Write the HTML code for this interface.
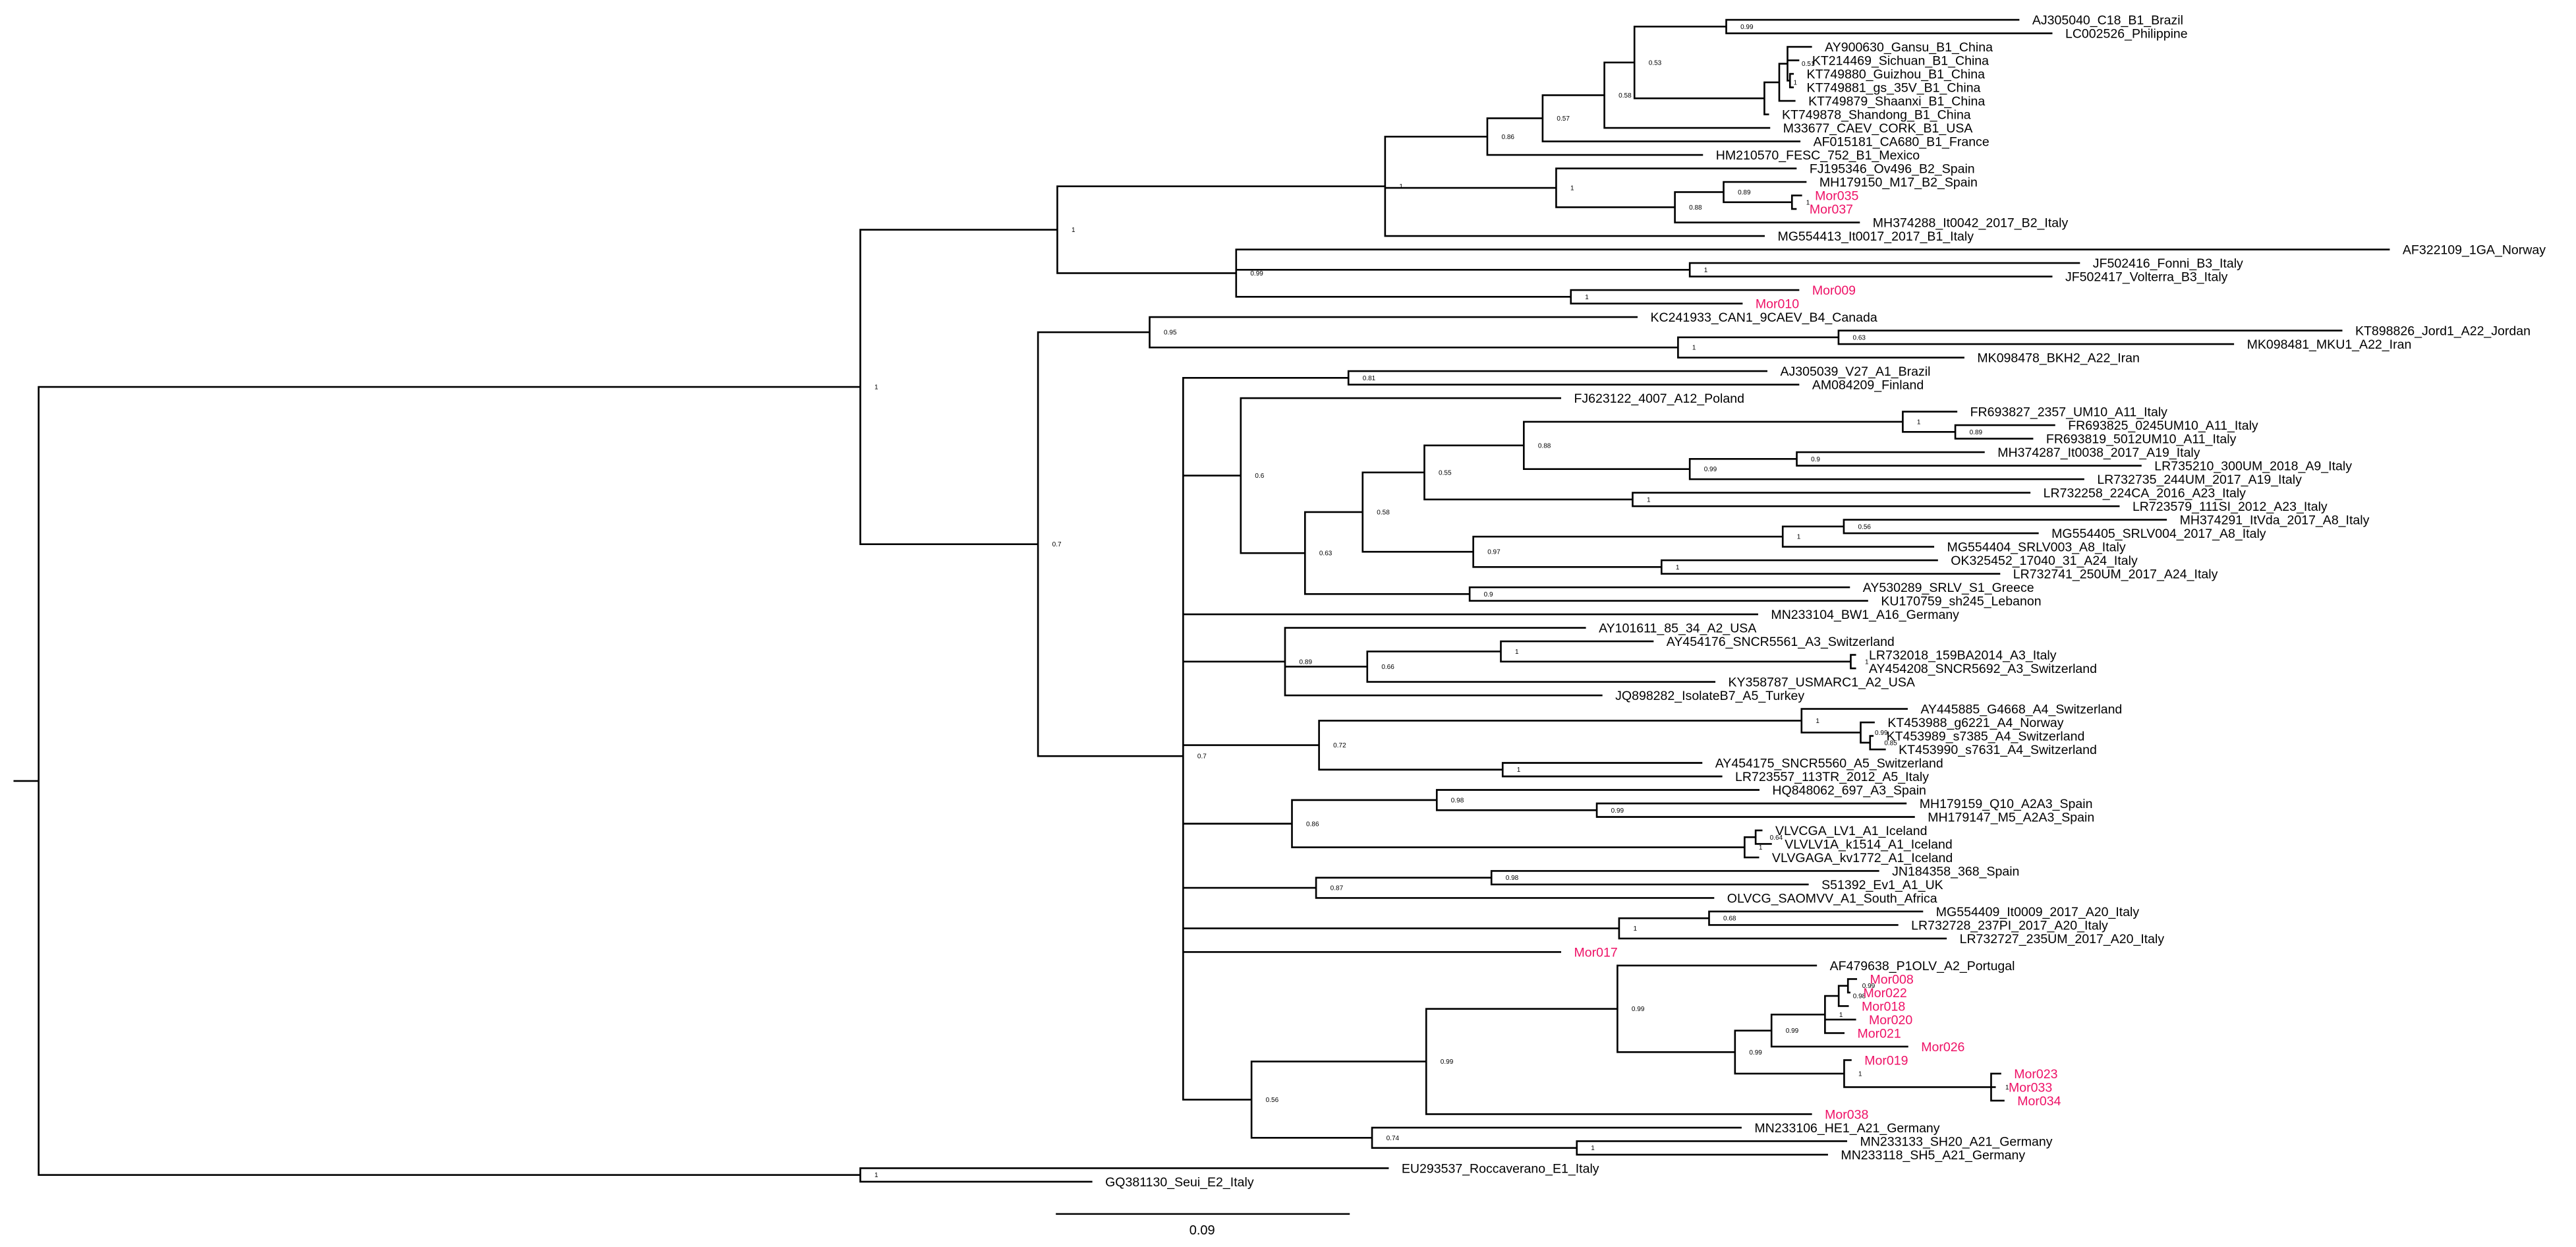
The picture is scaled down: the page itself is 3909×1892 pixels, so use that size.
<!DOCTYPE html>
<html><head><meta charset="utf-8"><style>
html,body{margin:0;padding:0;background:#fff;}
svg{display:block;}
text{font-family:"Liberation Sans",Arial,sans-serif;}
</style></head><body>
<svg id="s" xmlns="http://www.w3.org/2000/svg" width="3909" height="1892" viewBox="0 0 1560 755" preserveAspectRatio="none">
<rect width="1560" height="755" fill="#fff"/>
<g id="lines" stroke="#000" stroke-width="1.05" stroke-linecap="square" fill="none"></g>
<g id="txt"></g>
<line x1="639.4" y1="735" x2="817.4" y2="735" stroke="#000" stroke-width="1"/>
<text x="728" y="747.5" font-size="8" text-anchor="middle" fill="#000">0.09</text>
</svg>
<script>
function L(i,t,x,r){return {leaf:1,i:i,t:t,x:x,r:r};}
function N(x,s,c,yo){return {x:x,s:s,c:c,yo:yo};}
var tree=N(23.4,'',[
 N(521,'1',[
   N(640.3,'1',[
     N(838.8,'1',[
       N(900.7,'0.86',[
         N(934.2,'0.57',[
           N(971.6,'0.58',[
             N(989.8,'0.53',[
               N(1045.4,'0.99',[L(1,'AJ305040_C18_B1_Brazil',1222.4),L(2,'LC002526_Philippine',1242.4)]),
               N(1068.5,'',[
                 N(1077.5,'1',[
                   N(1082.5,'0.51',[L(3,'AY900630_Gansu_B1_China',1096.8),L(4,'KT214469_Sichuan_B1_China',1089.1),N(1084,'',[L(5,'KT749880_Guizhou_B1_China',1085.8),L(6,'KT749881_gs_35V_B1_China',1085.8)])]),
                   L(7,'KT749879_Shaanxi_B1_China',1086.8)]),
                 L(8,'KT749878_Shandong_B1_China',1070.8)])
             ]),
             L(9,'M33677_CAEV_CORK_B1_USA',1071.5)]),
           L(10,'AF015181_CA680_B1_France',1089.8)]),
         L(11,'HM210570_FESC_752_B1_Mexico',1030.8)]),
       N(942.4,'1',[L(12,'FJ195346_Ov496_B2_Spain',1087.5),
         N(1014.3,'0.88',[N(1043.8,'0.89',[L(13,'MH179150_M17_B2_Spain',1093.5),N(1085.2,'1',[L(14,'Mor035',1090.8,1),L(15,'Mor037',1087.5,1)])]),L(16,'MH374288_It0042_2017_B2_Italy',1125.8)])]),
       L(17,'MG554413_It0017_2017_B1_Italy',1068.2)]),
     N(748.6,'0.99',[L(18,'AF322109_1GA_Norway',1446.7),N(1023.3,'1',[L(19,'JF502416_Fonni_B3_Italy',1259.1),L(20,'JF502417_Volterra_B3_Italy',1242.4)]),N(951.3,'1',[L(21,'Mor009',1089.1,1),L(22,'Mor010',1054.8,1)])])
   ]),
   N(628.6,'0.7',[
     N(696.2,'0.95',[L(23,'KC241933_CAN1_9CAEV_B4_Canada',991.2),N(1016.2,'1',[N(1113.4,'0.63',[L(24,'KT898826_Jord1_A22_Jordan',1418),L(25,'MK098481_MKU1_A22_Iran',1352.4)]),L(26,'MK098478_BKH2_A22_Iran',1189.1)])]),
     N(716.5,'0.7',[
       N(816.6,'0.81',[L(27,'AJ305039_V27_A1_Brazil',1069.8),L(28,'AM084209_Finland',1089.1)]),
       N(751.4,'0.6',[L(29,'FJ623122_4007_A12_Poland',944.9),
         N(790.3,'0.63',[
           N(825.2,'0.58',[
             N(862.6,'0.55',[
               N(922.8,'0.88',[
                 N(1152.3,'1',[L(30,'FR693827_2357_UM10_A11_Italy',1184.8),N(1184.1,'0.89',[L(31,'FR693825_0245UM10_A11_Italy',1244.1),L(32,'FR693819_5012UM10_A11_Italy',1230.8)])]),
                 N(1023.3,'0.99',[N(1088.1,'0.9',[L(33,'MH374287_It0038_2017_A19_Italy',1201.4),L(34,'LR735210_300UM_2018_A9_Italy',1296.4)]),L(35,'LR732735_244UM_2017_A19_Italy',1261.7)])]),
               N(988.7,'1',[L(36,'LR732258_224CA_2016_A23_Italy',1229.1),L(37,'LR723579_111SI_2012_A23_Italy',1283.1)])]),
             N(892.2,'0.97',[
               N(1079.6,'1',[N(1116.6,'0.56',[L(38,'MH374291_ItVda_2017_A8_Italy',1311.7),L(39,'MG554405_SRLV004_2017_A8_Italy',1234.1)]),L(40,'MG554404_SRLV003_A8_Italy',1170.8)]),
               N(1006.2,'1',[L(41,'OK325452_17040_31_A24_Italy',1173.1),L(42,'LR732741_250UM_2017_A24_Italy',1210.8)])])]),
           N(890,'0.9',[L(43,'AY530289_SRLV_S1_Greece',1119.8),L(44,'KU170759_sh245_Lebanon',1130.8)])])]),
       L(45,'MN233104_BW1_A16_Germany',1064.2),
       N(778.2,'0.89',[L(46,'AY101611_85_34_A2_USA',959.9),N(828,'0.66',[N(908.9,'1',[L(47,'AY454176_SNCR5561_A3_Switzerland',1000.9),N(1120.8,'1',[L(48,'LR732018_159BA2014_A3_Italy',1123.5),L(49,'AY454208_SNCR5692_A3_Switzerland',1123.5)])]),L(50,'KY358787_USMARC1_A2_USA',1038.3)]),L(51,'JQ898282_IsolateB7_A5_Turkey',969.9)]),
       N(798.8,'0.72',[N(1091,'1',[L(52,'AY445885_G4668_A4_Switzerland',1154.8),N(1126.8,'0.99',[L(53,'KT453988_g6221_A4_Norway',1134.8),N(1132.5,'0.85',[L(54,'KT453989_s7385_A4_Switzerland',1134.1),L(55,'KT453990_s7631_A4_Switzerland',1141.5)])])]),N(910,'1',[L(56,'AY454175_SNCR5560_A5_Switzerland',1030.4),L(57,'LR723557_113TR_2012_A5_Italy',1042.5)])]),
       N(782.4,'0.86',[N(870.1,'0.98',[L(58,'HQ848062_697_A3_Spain',1065),N(967,'0.99',[L(59,'MH179159_Q10_A2A3_Spain',1154.1),L(60,'MH179147_M5_A2A3_Spain',1159.1)])]),N(1056.5,'1',[N(1063.2,'0.64',[L(61,'VLVCGA_LV1_A1_Iceland',1066.8),L(62,'VLVLV1A_k1514_A1_Iceland',1072.5)]),L(63,'VLVGAGA_kv1772_A1_Iceland',1064.8)])]),
       N(797,'0.87',[N(903.2,'0.98',[L(64,'JN184358_368_Spain',1137.5),L(65,'S51392_Ev1_A1_UK',1094.8)]),L(66,'OLVCG_SAOMVV_A1_South_Africa',1037.6)]),
       N(980.5,'1',[N(1035,'0.68',[L(67,'MG554409_It0009_2017_A20_Italy',1164.1),L(68,'LR732728_237PI_2017_A20_Italy',1149.1)]),L(69,'LR732727_235UM_2017_A20_Italy',1178.4)]),
       L(70,'Mor017',944.9,1),
       N(757.9,'0.56',[N(863.7,'0.99',[N(979.5,'0.99',[L(71,'AF479638_P1OLV_A2_Portugal',1099.8),N(1050.7,'0.99',[N(1072.8,'0.99',[N(1105.2,'1',[N(1113.5,'0.98',[N(1119.1,'0.99',[L(72,'Mor008',1124.1,1),L(73,'Mor022',1120.1,1)]),L(74,'Mor018',1119.1,1)]),L(75,'Mor020',1123.5,1),L(76,'Mor021',1116.5,1)]),L(77,'Mor026',1155.1,1)]),N(1116.8,'1',[L(78,'Mor019',1120.8,1),N(1205.8,'1',[L(79,'Mor023',1211.4,1),L(80,'Mor033',1208.1,1),L(81,'Mor034',1213.4,1)])])])]),L(82,'Mor038',1096.8,1)]),N(830.9,'0.74',[L(83,'MN233106_HE1_A21_Germany',1054.2),N(954.9,'1',[L(84,'MN233133_SH20_A21_Germany',1118.1),L(85,'MN233118_SH5_A21_Germany',1106.5)])])])
     ],457.8)
   ])
 ]),
 N(521,'1',[L(86,'EU293537_Roccaverano_E1_Italy',840.5),L(87,'GQ381130_Seui_E2_Italy',661)])
]);
var d='',t='';
function lay(n){
  if(n.leaf){n.y=12+8.18*(n.i-1);return n.y;}
  for(var k=0;k<n.c.length;k++)lay(n.c[k]);
  var y1=n.c[0].y,y2=n.c[n.c.length-1].y;
  n.y=n.yo||(y1+y2)/2;
  d+='M'+n.x+' '+y1+'V'+y2;
  return n.y;
}
function draw(n,px){
  d+='M'+px+' '+n.y+'H'+n.x;
  if(n.leaf){
    t+='<text x="'+(n.x+8.3)+'" y="'+(n.y+2.8)+'" font-size="7.8" fill="'+(n.r?'#ee1166':'#000')+'">'+n.t+'</text>';
    return;
  }
  if(n.s)t+='<text x="'+(n.x+8.6)+'" y="'+(n.y+1.4)+'" font-size="4" fill="#000">'+n.s+'</text>';
  for(var k=0;k<n.c.length;k++)draw(n.c[k],n.x);
}
lay(tree);
draw(tree,8.7);
var p=document.createElementNS('http://www.w3.org/2000/svg','path');
p.setAttribute('d',d);
document.getElementById('lines').appendChild(p);
document.getElementById('txt').innerHTML=t;
</script>
</body></html>
